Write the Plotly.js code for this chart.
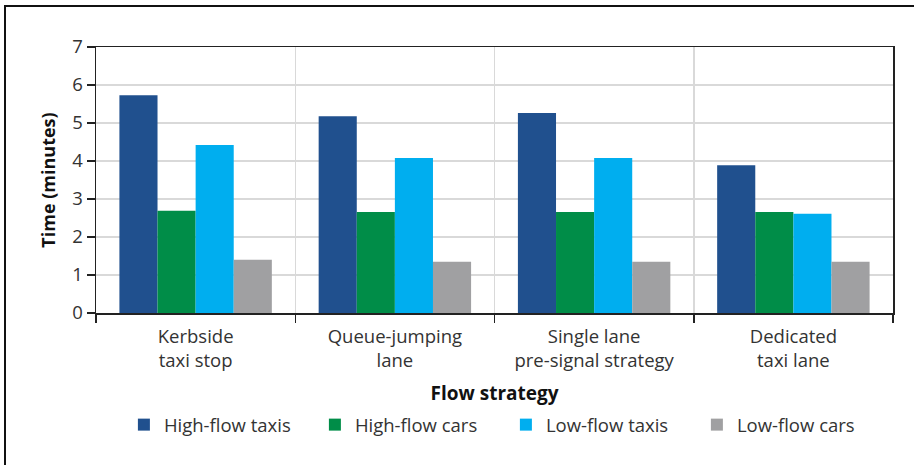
<!DOCTYPE html>
<html>
<head>
<meta charset="utf-8">
<script src="https://cdn.plot.ly/plotly-3.0.1.min.js"></script>
<style>
  html, body { margin: 0; padding: 0; background: #fff; overflow: hidden; }
  #chart { position: absolute; left: 0; top: 0; width: 914px; height: 465px; }
  #frame { position: absolute; left: 4px; top: 5px; width: 1000px; height: 1000px;
           border-left: 2px solid #111; border-top: 2px solid #111; pointer-events: none; }
</style>
</head>
<body>
<div id="chart"></div>
<div id="frame"></div>
<script>
const categories = ["Kerbside<br>taxi stop", "Queue-jumping<br>lane", "Single lane<br>pre-signal strategy", "Dedicated<br>taxi lane"];
const seriesNames = ["High-flow taxis", "High-flow cars", "Low-flow taxis", "Low-flow cars"];
const highFlowTaxis = [5.73, 5.18, 5.26, 3.89];
const highFlowCars  = [2.69, 2.66, 2.66, 2.66];
const lowFlowTaxis  = [4.42, 4.08, 4.08, 2.61];
const lowFlowCars   = [1.40, 1.35, 1.35, 1.35];
const yTicks = [0, 1, 2, 3, 4, 5, 6, 7];

const colors = ["#20508E", "#008D48", "#00AEEF", "#A0A0A2"];
const values = [highFlowTaxis, highFlowCars, lowFlowTaxis, lowFlowCars];

const traces = values.map((v, i) => ({
  type: "bar",
  name: seriesNames[i],
  x: categories,
  y: v,
  marker: { color: colors[i], line: { width: 0 } },
  hoverinfo: "x+y+name"
}));

const font = "'Open Sans', 'Noto Sans', sans-serif";

const layout = {
  width: 914,
  height: 465,
  margin: { l: 96, r: 21, t: 47, b: 152, autoexpand: false },
  paper_bgcolor: "#fff",
  plot_bgcolor: "#fff",
  barmode: "group",
  bargap: 0.235,
  bargroupgap: 0,
  font: { family: font, color: "#333", size: 18 },
  xaxis: {
    type: "category",
    tickson: "boundaries",
    showgrid: true,
    gridcolor: "#d9d9d9",
    gridwidth: 1.5,
    showline: true,
    mirror: true,
    linecolor: "#222",
    linewidth: 1.5,
    ticks: "outside",
    ticklen: 8,
    tickcolor: "#222",
    tickwidth: 1.5,
    ticklabelstandoff: 6,
    tickfont: { family: font, size: 18.5, color: "#333" },
    title: { text: "<b>Flow strategy</b>", font: { family: font, size: 19, color: "#111" }, standoff: 16 }
  },
  yaxis: {
    range: [0, 7],
    tickvals: yTicks,
    showgrid: true,
    gridcolor: "#d9d9d9",
    gridwidth: 1.5,
    zeroline: false,
    showline: true,
    mirror: true,
    linecolor: "#222",
    linewidth: 1.5,
    ticks: "outside",
    ticklen: 8,
    tickcolor: "#222",
    tickwidth: 1.5,
    tickfont: { family: font, size: 18.5, color: "#333" },
    title: { text: "<b>Time (minutes)</b>", font: { family: font, size: 18, color: "#111" }, standoff: 12 }
  },
  legend: {
    orientation: "h",
    x: 0.035,
    xanchor: "left",
    y: -0.35,
    yanchor: "top",
    entrywidth: 146,
    entrywidthmode: "pixels",
    font: { family: font, size: 18.5, color: "#333" },
    itemwidth: 30
  },
  showlegend: true
};

Plotly.newPlot("chart", traces, layout, { displayModeBar: false, staticPlot: true });
</script>
</body>
</html>
